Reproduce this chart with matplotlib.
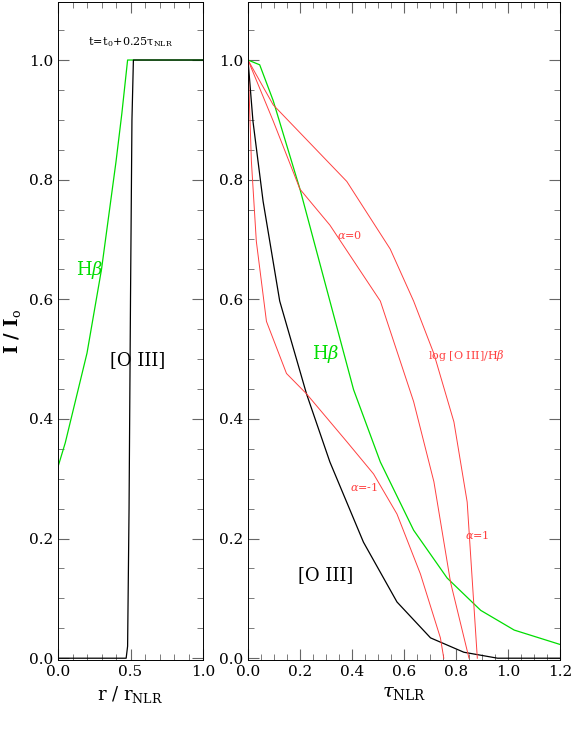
import matplotlib
matplotlib.use("Agg")
import matplotlib.pyplot as plt
from matplotlib.ticker import MultipleLocator, FormatStrFormatter

plt.rcParams['font.family'] = ['DejaVu Serif']
plt.rcParams['mathtext.fontset'] = 'dejavuserif'

# Left panel
r_hb = [0.0, 0.05, 0.1, 0.15, 0.2, 0.25, 0.3, 0.35, 0.4, 0.44, 0.48, 0.5, 1.0]
hb_left = [0.32, 0.36, 0.41, 0.46, 0.51, 0.58, 0.65, 0.74, 0.83, 0.91, 1.0, 1.0, 1.0]
r_o3 = [0.0, 0.47, 0.48, 0.49, 0.50, 0.51, 0.52, 1.0]
o3_left = [0.0, 0.0, 0.02, 0.25, 0.60, 0.90, 1.0, 1.0]

# Right panel
tau_o3 = [0.0, 0.019, 0.058, 0.122, 0.225, 0.315, 0.444, 0.573, 0.702, 0.83, 0.96, 1.2]
o3_right = [1.0, 0.898, 0.764, 0.597, 0.442, 0.328, 0.194, 0.094, 0.034, 0.01, 0.0, 0.0]
tau_hb = [0.0, 0.045, 0.097, 0.2, 0.315, 0.406, 0.509, 0.637, 0.766, 0.895, 1.024, 1.2]
hb_right = [1.0, 0.992, 0.932, 0.784, 0.597, 0.449, 0.328, 0.214, 0.134, 0.080, 0.047, 0.023]
tau_am1 = [0.0, 0.013, 0.032, 0.071, 0.148, 0.225, 0.38, 0.483, 0.573, 0.663, 0.74, 0.753]
am1 = [1.0, 0.831, 0.697, 0.563, 0.476, 0.442, 0.362, 0.308, 0.241, 0.141, 0.034, 0.0]
tau_a0 = [0.0, 0.097, 0.2, 0.315, 0.509, 0.637, 0.715, 0.779, 0.85]
a0 = [1.0, 0.898, 0.784, 0.724, 0.597, 0.429, 0.295, 0.127, 0.0]
tau_a1 = [0.0, 0.097, 0.38, 0.547, 0.637, 0.715, 0.792, 0.843, 0.882]
a1 = [1.0, 0.925, 0.797, 0.684, 0.597, 0.509, 0.395, 0.261, 0.0]

fig = plt.figure(figsize=(5.72, 7.47), dpi=100)
ax1 = fig.add_axes([58/572, 1-660/747, 145/572, 658/747])
ax2 = fig.add_axes([248/572, 1-660/747, 312/572, 658/747])
ylo, yhi = -0.003, 1.097
red = '#ff4040'; green = '#00dd00'

ax1.plot(r_hb, hb_left, color=green, lw=0.9)
ax1.plot(r_o3, o3_left, color='black', lw=0.9)
ax1.set_xlim(0, 1); ax1.set_ylim(ylo, yhi)
ax1.text(0.22, 0.64, r'H$\beta$', color=green, fontsize=13, ha='center')
ax1.text(0.55, 0.49, '[O III]', color='black', fontsize=13, ha='center')
ax1.text(0.5, 1.025, r'$\mathrm{t\!=\!t_0\!+\!0.25\tau_{NLR}}$', fontsize=8, ha='center')
ax1.set_xlabel(r'r / r$_{\mathrm{NLR}}$', fontsize=13)
ax1.set_ylabel(r'I / I$_{\mathrm{o}}$', fontsize=13, fontweight='bold')
ax1.xaxis.set_major_locator(MultipleLocator(0.5))
ax1.xaxis.set_minor_locator(MultipleLocator(0.1))

ax2.plot(tau_o3, o3_right, color='black', lw=0.9)
ax2.plot(tau_hb, hb_right, color=green, lw=0.9)
for x, y in [(tau_am1, am1), (tau_a0, a0), (tau_a1, a1)]:
    ax2.plot(x, y, color=red, lw=0.7)
ax2.set_xlim(0, 1.2); ax2.set_ylim(ylo, yhi)
ax2.text(0.3, 0.5, r'H$\beta$', color=green, fontsize=13, ha='center')
ax2.text(0.3, 0.13, '[O III]', color='black', fontsize=13, ha='center')
ax2.text(0.39, 0.7, r'$\alpha$=0', color=red, fontsize=8, ha='center')
ax2.text(0.445, 0.28, r'$\alpha$=-1', color=red, fontsize=8, ha='center')
ax2.text(0.88, 0.2, r'$\alpha$=1', color=red, fontsize=8, ha='center')
ax2.text(0.84, 0.5, r'log [O III]/H$\beta$', color=red, fontsize=8, ha='center')
ax2.set_xlabel(r'$\tau_{\mathrm{NLR}}$', fontsize=14)
ax2.xaxis.set_major_locator(MultipleLocator(0.2))
ax2.xaxis.set_minor_locator(MultipleLocator(0.05))

for ax in (ax1, ax2):
    ax.yaxis.set_major_locator(MultipleLocator(0.2))
    ax.yaxis.set_minor_locator(MultipleLocator(0.05))
    ax.tick_params(which='both', direction='in', top=True, right=True, labelsize=11, color='#666666')
    ax.tick_params(which='major', length=8)
    ax.tick_params(which='minor', length=4)
    ax.yaxis.set_major_formatter(FormatStrFormatter('%.1f'))
    ax.xaxis.set_major_formatter(FormatStrFormatter('%.1f'))
    for s in ax.spines.values():
        s.set_linewidth(0.7)

fig.savefig('out.png', dpi=100)
